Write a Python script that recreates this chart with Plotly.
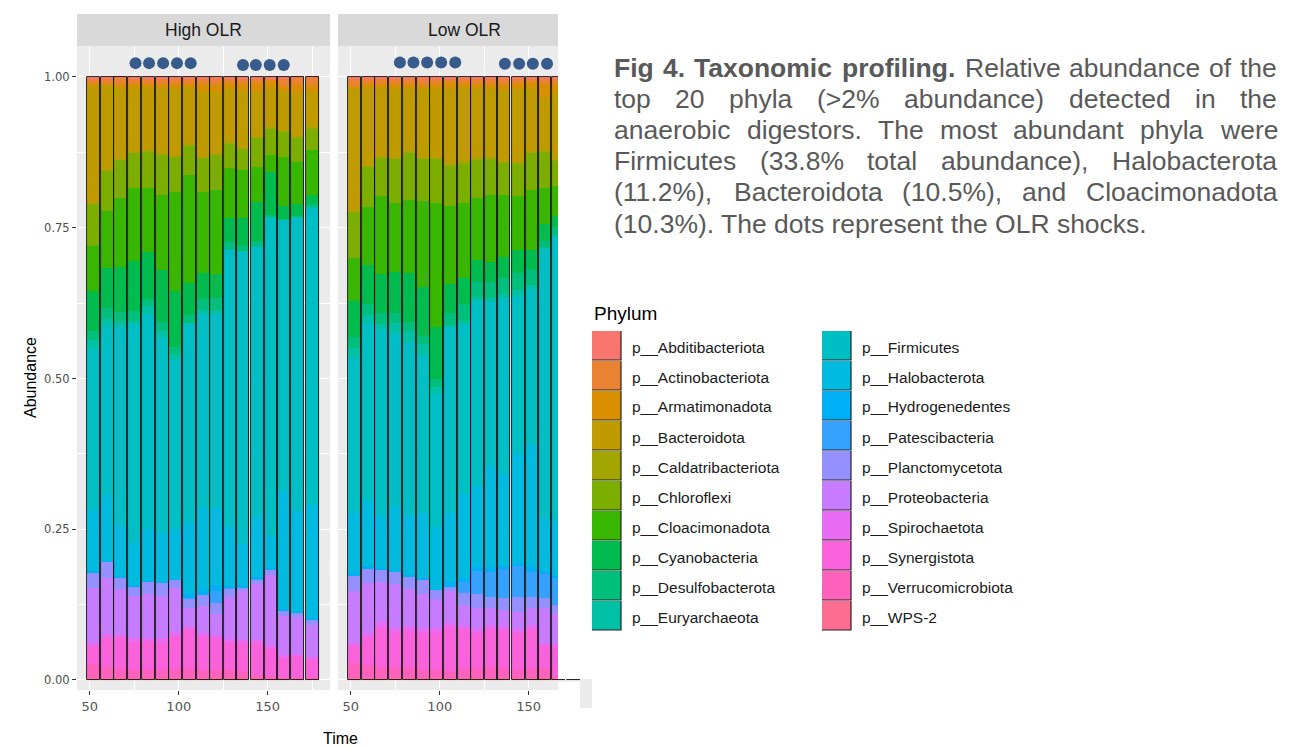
import plotly.graph_objects as go

W, H = 1304, 748

# ---------------- data ----------------
phyla = ["p__Abditibacteriota", "p__Actinobacteriota", "p__Armatimonadota", "p__Bacteroidota",
         "p__Caldatribacteriota", "p__Chloroflexi", "p__Cloacimonadota", "p__Cyanobacteria",
         "p__Desulfobacterota", "p__Euryarchaeota", "p__Firmicutes", "p__Halobacterota",
         "p__Hydrogenedentes", "p__Patescibacteria", "p__Planctomycetota", "p__Proteobacteria",
         "p__Spirochaetota", "p__Synergistota", "p__Verrucomicrobiota", "p__WPS-2"]
colors = ["#F8766D", "#EA8331", "#D89000", "#C09B00", "#A3A500", "#7CAE00", "#39B600", "#00BB4E",
          "#00BF7D", "#00C1A3", "#00BFC4", "#00BAE0", "#00B0F6", "#35A2FF", "#9590FF", "#C77CFF",
          "#E76BF3", "#FA62DB", "#FF62BC", "#FF6C91"]

panels = ["High OLR", "Low OLR"]
time_high = [52, 60, 67, 75, 83, 91, 98, 106, 114, 121, 129, 136, 144, 152, 159, 167, 175]
time_low = [52, 60, 67, 75, 83, 91, 98, 106, 114, 121, 129, 136, 144, 152, 159, 167, 175]

# relative abundance (%) per sample, High OLR
high_abd = [0.2, 0.2, 0.1, 0.2, 0.2, 0.3, 0.3, 0.2, 0.2, 0.2, 0.2, 0.2, 0.2, 0.2, 0.2, 0.1, 0.1]
high_act = [1.0, 0.9, 1.0, 1.0, 1.0, 0.8, 0.8, 1.0, 0.9, 0.9, 0.8, 0.9, 0.8, 0.5, 1.3, 1.2, 1.2]
high_arm = [0.1, 0.1, 0.7, 0.5, 0.5, 0.7, 0.7, 0.5, 1.4, 1.4, 0.8, 1.2, 1.5, 1.0, 0.9, 1.2, 1.2]
high_bac = [19.5, 14.3, 11.8, 10.7, 10.5, 10.9, 11.3, 9.5, 10.8, 10.3, 9.0, 9.5, 7.5, 6.6, 6.5, 7.3, 5.8]
high_cal = [0.1, 0.1, 0.1, 0.1, 0.1, 0.1, 0.1, 0.2, 0.1, 0.1, 0.2, 0.2, 0.2, 0.4, 0.2, 0.2, 0.3]
high_chl = [7.0, 6.7, 6.4, 5.9, 6.1, 6.8, 5.9, 5.0, 5.6, 5.9, 4.2, 3.5, 4.9, 4.3, 4.3, 4.1, 3.5]
high_clo = [7.6, 9.4, 11.5, 12.1, 10.6, 12.4, 16.5, 18.0, 13.5, 13.8, 8.2, 8.0, 5.9, 2.8, 8.0, 7.0, 7.6]
high_cya = [6.6, 6.7, 7.5, 8.4, 7.8, 8.7, 9.2, 5.3, 4.3, 4.0, 4.0, 4.7, 6.5, 7.2, 2.2, 2.1, 1.4]
high_des = [1.4, 1.8, 1.7, 1.6, 1.2, 1.5, 1.2, 1.3, 1.8, 2.1, 1.2, 0.8, 0.7, 0.4, 0.1, 0.1, 0.6]
high_eur = [1.6, 1.2, 0.9, 0.5, 1.3, 1.2, 1.0, 0.1, 0.7, 0.6, 0.1, 0.1, 0.1, 0.1, 0.1, 0.1, 0.1]
high_fir = [26.6, 28.1, 33.0, 36.4, 35.8, 32.3, 28.1, 33.0, 32.1, 32.2, 46.2, 48.8, 45.3, 53.0, 45.2, 48.9, 49.6]
high_hal = [10.1, 10.9, 8.4, 7.0, 8.6, 8.2, 8.2, 12.0, 13.7, 12.7, 9.7, 6.9, 10.0, 5.4, 19.6, 16.7, 18.6]
high_hyd = [0.2, 0.1, 0.2, 0.2, 0.1, 0.1, 0.1, 0.8, 0.8, 1.1, 0.4, 0.3, 0.3, 0.2, 0.3, 0.2, 0.5]
high_pat = [0.0, 0.0, 0.0, 0.0, 0.0, 0.0, 0.0, 0.1, 0.0, 1.9, 0.1, 0.0, 0.2, 0.0, 0.0, 0.0, 0.0]
high_pla = [2.5, 2.8, 2.0, 1.5, 2.0, 2.1, 1.5, 1.5, 1.9, 1.9, 1.4, 0.6, 0.8, 0.9, 0.8, 0.7, 0.8]
high_pro = [9.1, 9.3, 7.6, 7.0, 7.3, 7.0, 7.3, 3.2, 4.4, 3.4, 6.9, 8.2, 9.3, 11.8, 6.6, 6.1, 5.3]
high_spi = [0.6, 0.7, 0.3, 0.7, 0.6, 0.8, 0.6, 0.2, 0.7, 0.5, 0.6, 0.5, 0.5, 0.4, 0.3, 0.3, 0.3]
high_syn = [3.0, 4.7, 5.4, 4.6, 4.7, 4.5, 5.4, 6.7, 5.5, 5.3, 4.7, 4.7, 5.4, 4.8, 3.3, 3.6, 3.1]
high_ver = [2.3, 1.9, 1.5, 1.4, 1.4, 1.4, 1.6, 1.6, 1.3, 1.4, 1.3, 1.2, 0.5, 0.3, 0.2, 0.2, 0.2]
high_wps = [0.3, 0.3, 0.3, 0.3, 0.3, 0.3, 0.3, 0.3, 0.3, 0.3, 0.3, 0.3, 0.3, 0.3, 0.3, 0.3, 0.3]

# relative abundance (%) per sample, Low OLR
low_abd = [0.2, 0.2, 0.2, 0.2, 0.2, 0.3, 0.4, 0.2, 0.2, 0.2, 0.2, 0.2, 0.2, 0.2, 0.2, 0.2, 0.2]
low_act = [1.3, 1.0, 1.0, 1.0, 1.0, 1.0, 0.8, 0.7, 1.0, 1.0, 1.0, 1.0, 1.0, 0.7, 1.0, 1.0, 1.0]
low_arm = [0.2, 0.3, 0.3, 0.7, 0.7, 0.5, 0.6, 0.9, 0.5, 0.6, 0.6, 1.0, 0.8, 0.9, 2.2, 1.5, 1.5]
low_bac = [20.6, 13.3, 11.6, 11.5, 10.4, 11.6, 11.6, 12.7, 12.0, 11.5, 11.5, 11.8, 12.1, 10.6, 8.8, 11.1, 10.5]
low_cal = [0.1, 0.1, 0.2, 0.2, 0.2, 0.2, 0.2, 0.2, 0.6, 0.3, 0.2, 0.3, 0.3, 0.2, 0.2, 0.2, 0.2]
low_chl = [7.7, 6.8, 6.5, 7.4, 8.0, 7.0, 7.4, 6.7, 6.5, 6.5, 6.0, 5.4, 5.4, 6.1, 6.0, 4.3, 4.5]
low_clo = [7.2, 9.5, 12.8, 11.4, 12.2, 14.3, 20.6, 13.0, 12.4, 10.3, 11.2, 10.3, 9.0, 10.1, 6.1, 5.0, 5.5]
low_cya = [6.1, 6.6, 6.5, 6.8, 8.1, 8.1, 8.7, 4.7, 4.3, 3.6, 3.2, 3.5, 3.9, 3.3, 2.7, 1.9, 2.0]
low_des = [1.7, 1.8, 1.8, 1.6, 1.5, 1.4, 1.2, 2.0, 2.8, 2.4, 2.7, 2.6, 2.8, 2.4, 1.3, 1.4, 1.4]
low_eur = [1.7, 1.3, 0.9, 1.7, 1.8, 1.8, 1.3, 0.4, 0.4, 0.7, 0.7, 0.7, 1.0, 0.7, 0.1, 0.1, 0.1]
low_fir = [25.8, 29.7, 31.0, 28.9, 28.9, 26.3, 22.0, 30.9, 28.1, 30.6, 27.2, 29.3, 26.3, 25.9, 44.9, 47.8, 46.5]
low_hal = [10.1, 10.8, 8.7, 10.6, 10.0, 10.8, 10.3, 11.5, 13.8, 13.4, 16.7, 15.3, 18.2, 20.3, 8.7, 9.4, 9.8]
low_hyd = [0.5, 0.3, 0.2, 0.2, 0.1, 0.3, 0.2, 0.7, 0.7, 0.7, 0.8, 0.3, 0.5, 0.9, 0.5, 0.3, 0.3]
low_pat = [0.0, 0.0, 0.0, 0.0, 0.0, 0.0, 0.0, 0.0, 1.9, 3.8, 4.1, 4.9, 5.1, 4.1, 3.9, 4.6, 4.4]
low_pla = [2.4, 2.5, 2.0, 2.0, 2.1, 2.4, 1.5, 0.7, 2.0, 2.4, 1.9, 2.0, 2.4, 1.9, 1.7, 1.5, 1.6]
low_pro = [8.8, 8.3, 6.7, 7.4, 6.2, 5.7, 4.9, 5.3, 3.4, 3.4, 2.8, 2.7, 2.9, 2.7, 5.8, 5.1, 5.2]
low_spi = [0.4, 0.6, 1.0, 0.8, 0.9, 0.7, 0.7, 0.7, 0.5, 0.7, 0.7, 0.7, 0.7, 0.7, 0.5, 0.4, 0.4]
low_syn = [2.9, 4.7, 6.6, 5.8, 6.1, 6.2, 6.3, 7.3, 6.6, 5.9, 6.3, 6.4, 6.1, 6.7, 3.9, 5.0, 4.8]
low_ver = [2.5, 2.2, 1.7, 1.7, 1.7, 1.4, 1.3, 1.2, 1.5, 1.6, 1.8, 1.6, 1.4, 1.5, 1.5, 0.3, 0.3]
low_wps = [0.3, 0.3, 0.3, 0.3, 0.3, 0.3, 0.3, 0.3, 0.3, 0.3, 0.3, 0.3, 0.3, 0.3, 0.3, 0.3, 0.3]

# OLR shock markers
shock_time_high = [75.7, 83.3, 91.2, 99.0, 106.7, 136.1, 143.3, 151.1, 159.0]
shock_y_high = [1.023, 1.023, 1.023, 1.023, 1.023, 1.020, 1.020, 1.020, 1.020]
shock_time_low = [77.6, 85.2, 92.9, 100.8, 108.7, 136.6, 144.6, 152.3, 160.3]
shock_y_low = [1.024, 1.024, 1.024, 1.024, 1.024, 1.022, 1.022, 1.022, 1.022]

y_ticks = [0, 0.25, 0.5, 0.75, 1.0]
y_ticktext = ["0.00", "0.25", "0.50", "0.75", "1.00"]
x_ticks = [50, 100, 150]
x_ticktext = ["50", "100", "150"]

caption_lines = [
    [("Fig", True), ("4.", True), ("Taxonomic", True), ("profiling.", True),
     ("Relative", False), ("abundance", False), ("of", False), ("the", False)],
    [("top", False), ("20", False), ("phyla", False), ("(>2%", False), ("abundance)", False),
     ("detected", False), ("in", False), ("the", False)],
    [("anaerobic", False), ("digestors.", False), ("The", False), ("most", False),
     ("abundant", False), ("phyla", False), ("were", False)],
    [("Firmicutes", False), ("(33.8%", False), ("total", False), ("abundance),", False),
     ("Halobacterota", False)],
    [("(11.2%),", False), ("Bacteroidota", False), ("(10.5%),", False), ("and", False),
     ("Cloacimonadota", False)],
]
caption_last = "(10.3%). The dots represent the OLR shocks."

# table built from the named arrays
high_vals = [high_abd, high_act, high_arm, high_bac, high_cal, high_chl, high_clo, high_cya,
             high_des, high_eur, high_fir, high_hal, high_hyd, high_pat, high_pla, high_pro,
             high_spi, high_syn, high_ver, high_wps]
low_vals = [low_abd, low_act, low_arm, low_bac, low_cal, low_chl, low_clo, low_cya,
            low_des, low_eur, low_fir, low_hal, low_hyd, low_pat, low_pla, low_pro,
            low_spi, low_syn, low_ver, low_wps]

# ---------------- figure ----------------
FONT = "Liberation Sans, Arial, sans-serif"
fig = go.Figure()

BAR_W = 7.3


def add_panel(times, vals, xa, ya):
    n = len(times)
    totals = [sum(v[i] for v in vals) for i in range(n)]
    fracs = [[v[i] / totals[i] for i in range(n)] for v in vals]
    base = [0.0] * n
    # ggplot stacks the first level on top -> draw from the last phylum upwards
    for k in range(len(phyla) - 1, -1, -1):
        fig.add_trace(go.Bar(
            x=times, y=fracs[k], base=list(base), width=BAR_W, name=phyla[k],
            marker=dict(color=colors[k], line=dict(width=0)),
            xaxis=xa, yaxis=ya, showlegend=False, hoverinfo="x+y+name"))
        base = [base[i] + fracs[k][i] for i in range(n)]
    # black outline around each sample column
    fig.add_trace(go.Bar(
        x=times, y=base, base=[0.0] * n, width=BAR_W,
        marker=dict(color="rgba(0,0,0,0)", line=dict(color="#111111", width=0.9)),
        xaxis=xa, yaxis=ya, showlegend=False, hoverinfo="skip"))


add_panel(time_high, high_vals, "x", "y")
add_panel(time_low, low_vals, "x2", "y2")

fig.add_trace(go.Scatter(x=shock_time_high, y=shock_y_high, mode="markers",
                         marker=dict(size=12, color="#375C8C"), xaxis="x", yaxis="y",
                         showlegend=False, cliponaxis=False))
fig.add_trace(go.Scatter(x=shock_time_low, y=shock_y_low, mode="markers",
                         marker=dict(size=12, color="#375C8C"), xaxis="x2", yaxis="y2",
                         showlegend=False, cliponaxis=False))

# panel geometry (pixels)
PX_L1, PX_R1 = 77, 330
PX_L2, PX_R2 = 338, 591
PX_TOP, PX_BOT = 46, 690
STRIP_TOP = 14


def px(x):
    return x / W


def py(y):
    return 1 - y / H


XR = [42.8, 185.0]
YR = [-0.0166, 1.0514]

axis_common = dict(range=XR, tickvals=x_ticks, ticktext=x_ticktext, ticks="outside", ticklen=4,
                   tickcolor="#333333", tickwidth=1,
                   tickfont=dict(family="DejaVu Sans, sans-serif", size=13, color="#555555"),
                   showgrid=True, gridcolor="white", gridwidth=1.1, zeroline=False, showline=False,
                   minor=dict(tickvals=[75, 125, 175], showgrid=True, gridcolor="white", gridwidth=0.5))
yaxis_common = dict(range=YR, tickvals=y_ticks, ticktext=y_ticktext, showgrid=True,
                    gridcolor="white", gridwidth=1.1, zeroline=False, showline=False,
                    minor=dict(tickvals=[0.125, 0.375, 0.625, 0.875], showgrid=True,
                               gridcolor="white", gridwidth=0.5))

fig.update_layout(
    width=W, height=H, margin=dict(l=0, r=0, t=0, b=0),
    paper_bgcolor="white", plot_bgcolor="#EBEBEB",
    barmode="overlay", bargap=0, showlegend=False,
    xaxis=dict(domain=[px(PX_L1), px(PX_R1)], anchor="y", **axis_common),
    xaxis2=dict(domain=[px(PX_L2), px(PX_R2)], anchor="y2", **axis_common),
    yaxis=dict(domain=[py(PX_BOT), py(PX_TOP)], anchor="x", ticks="outside", ticklen=4,
               tickcolor="#333333",
               tickfont=dict(family="DejaVu Sans, sans-serif", size=11.5, color="#4D4D4D"),
               **yaxis_common),
    yaxis2=dict(domain=[py(PX_BOT), py(PX_TOP)], anchor="x2", showticklabels=False, ticks="",
                **yaxis_common),
)

shapes = []
annotations = []

# facet strips
for (l, r), label in zip([(PX_L1, PX_R1), (PX_L2, PX_R2)], panels):
    shapes.append(dict(type="rect", xref="paper", yref="paper", x0=px(l), x1=px(r),
                       y0=py(PX_TOP), y1=py(STRIP_TOP), fillcolor="#D9D9D9",
                       line=dict(width=0), layer="above"))
    annotations.append(dict(xref="paper", yref="paper", x=px((l + r) / 2), y=py((PX_TOP + STRIP_TOP) / 2),
                            text=label, showarrow=False, xanchor="center", yanchor="middle",
                            font=dict(family=FONT, size=17.5, color="#1A1A1A")))

# white area of the composed figure that hides the right edge of the second panel
shapes.append(dict(type="rect", xref="paper", yref="paper", x0=px(558), x1=px(602),
                   y0=py(679), y1=py(0), fillcolor="white", line=dict(width=0), layer="above"))
shapes.append(dict(type="rect", xref="paper", yref="paper", x0=px(558), x1=px(580),
                   y0=py(700), y1=py(681.5), fillcolor="white", line=dict(width=0), layer="above"))
shapes.append(dict(type="rect", xref="paper", yref="paper", x0=px(580), x1=px(592),
                   y0=py(708), y1=py(679), fillcolor="#EBEBEB", line=dict(width=0), layer="above"))

# axis titles
annotations.append(dict(xref="paper", yref="paper", x=px(30), y=py(378), text="Abundance",
                        textangle=-90, showarrow=False, xanchor="center", yanchor="middle",
                        font=dict(family=FONT, size=16, color="#000000")))
annotations.append(dict(xref="paper", yref="paper", x=px(340), y=0, text="Time",
                        showarrow=False, xanchor="center", yanchor="bottom", borderpad=0,
                        font=dict(family=FONT, size=16, color="#000000")))

# legend (drawn as keys + labels, two columns like the ggplot guide)
annotations.append(dict(xref="paper", yref="paper", x=px(592), y=py(313), text="Phylum",
                        showarrow=False, xanchor="left", yanchor="middle",
                        font=dict(family=FONT, size=19, color="#000000")))
KEY = 29
for i, (name, col) in enumerate(zip(phyla, colors)):
    c, r = divmod(i, 10)
    x0 = [592, 822][c]
    y0 = 331 + 30 * r
    shapes.append(dict(type="rect", xref="paper", yref="paper", x0=px(x0), x1=px(x0 + KEY),
                       y0=py(y0 + KEY), y1=py(y0), fillcolor=col, line=dict(width=0), layer="above"))
    shapes.append(dict(type="path", xref="paper", yref="paper",
                       path=f"M {px(x0)},{py(y0 + KEY)} L {px(x0 + KEY)},{py(y0 + KEY)} L {px(x0 + KEY)},{py(y0)}",
                       line=dict(color="#222222", width=1.2), layer="above"))
    annotations.append(dict(xref="paper", yref="paper", x=px(x0 + 38), y=py(y0 + 16), text=name,
                            showarrow=False, xanchor="left", yanchor="middle",
                            font=dict(family=FONT, size=15.5, color="#1A1A1A")))

# caption (justified lines)
REG = dict(zip("abcdefghijklmnopqrstuvwxyz",
               [556, 556, 500, 556, 556, 278, 556, 556, 222, 222, 500, 222, 833, 556, 556, 556, 556,
                333, 500, 278, 556, 500, 722, 500, 500, 500]))
REG.update(dict(zip("ABCDEFGHIJKLMNOPQRSTUVWXYZ",
                    [667, 667, 722, 722, 667, 611, 778, 722, 278, 500, 667, 556, 833, 722, 778, 667,
                     778, 722, 667, 611, 722, 667, 944, 667, 667, 611])))
REG.update({d: 556 for d in "0123456789"})
REG.update({" ": 278, "%": 889, "(": 333, ")": 333, ",": 278, ".": 278, ">": 584, "-": 333})
BOLD = dict(zip("abcdefghijklmnopqrstuvwxyz",
                [556, 611, 556, 611, 556, 333, 611, 611, 278, 278, 556, 278, 889, 611, 611, 611, 611,
                 389, 556, 333, 611, 556, 778, 556, 556, 500]))
BOLD.update({"F": 611, "T": 611, " ": 278, ".": 278})
BOLD.update({d: 556 for d in "0123456789"})

CAP_FS = 26.5
CAP_L, CAP_R = 612, 1275
CAP_Y = [68, 99, 130, 161, 192, 224]
CAP_COLOR = "#595959"


def text_w(word, bold):
    tab = BOLD if bold else REG
    return sum(tab.get(ch, 556) for ch in word) / 1000 * CAP_FS


for line, yc in zip(caption_lines, CAP_Y):
    widths = [text_w(w, b) for w, b in line]
    gap = (CAP_R - CAP_L - sum(widths)) / (len(line) - 1)
    x = CAP_L
    for (word, bold), wd in zip(line, widths):
        annotations.append(dict(xref="paper", yref="paper", x=px(x), y=py(yc),
                                text=f"<b>{word}</b>" if bold else word, showarrow=False,
                                xanchor="left", yanchor="middle",
                                font=dict(family=FONT, size=CAP_FS, color=CAP_COLOR)))
        x += wd + gap
annotations.append(dict(xref="paper", yref="paper", x=px(CAP_L), y=py(CAP_Y[-1]), text=caption_last,
                        showarrow=False, xanchor="left", yanchor="middle",
                        font=dict(family=FONT, size=CAP_FS, color=CAP_COLOR)))

fig.update_layout(shapes=shapes, annotations=annotations)
fig.write_html("out.html")
